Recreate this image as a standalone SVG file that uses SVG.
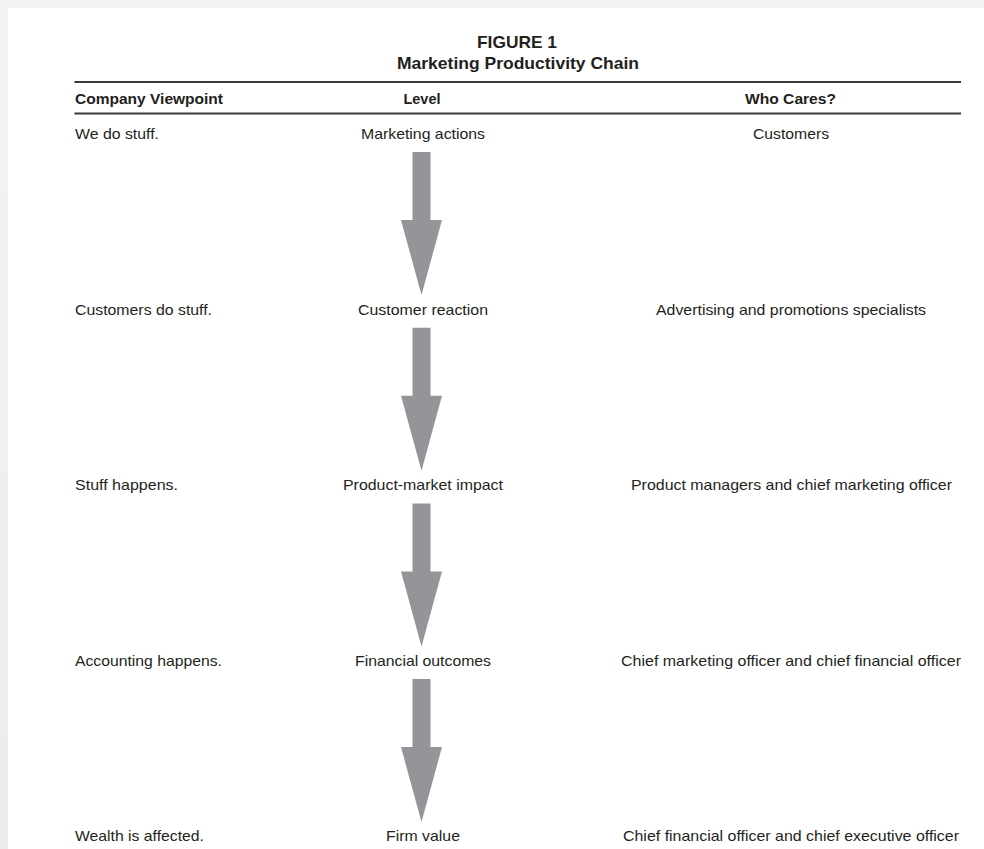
<svg xmlns="http://www.w3.org/2000/svg" xmlns:xlink="http://www.w3.org/1999/xlink" width="984" height="849" viewBox="0 0 984 849">
  <style>
    text { font-family: "Liberation Sans", Arial, Helvetica, sans-serif; fill: #231f20; }
    .title { font-size: 17px; font-weight: bold; text-anchor: middle; }
    .hdr { font-size: 14.5px; font-weight: bold; }
    .body { font-size: 15px; }
    .mid { text-anchor: middle; }
    .rule { stroke: #3a3a3a; stroke-width: 2; }
    .arrow { fill: #939598; }
  </style>
  <defs>
    <linearGradient id="shadeTop" x1="0" y1="0" x2="0" y2="1">
      <stop offset="0" stop-color="#f3f3f3"/>
      <stop offset="1" stop-color="#ececec"/>
    </linearGradient>
    <polygon id="blockArrow" class="arrow" points="412.5,152 430.5,152 430.5,220 442,220 421.5,295 401,220 412.5,220"/>
  </defs>

  <rect x="0" y="0" width="984" height="849" fill="url(#shadeTop)"/>
  <rect x="8" y="8" width="976" height="841" fill="#ffffff"/>

  <g id="title">
    <text class="title" x="517" y="47.5" textLength="80" lengthAdjust="spacingAndGlyphs">FIGURE 1</text>
    <text class="title" x="518" y="69" textLength="242" lengthAdjust="spacingAndGlyphs">Marketing Productivity Chain</text>
  </g>

  <g id="rules">
    <line class="rule" x1="74.5" y1="82" x2="961" y2="82"/>
    <line class="rule" x1="74.5" y1="113.5" x2="961" y2="113.5"/>
  </g>

  <g id="header">
    <text class="hdr" x="75" y="104" textLength="148" lengthAdjust="spacingAndGlyphs">Company Viewpoint</text>
    <text class="hdr mid" x="422" y="104">Level</text>
    <text class="hdr mid" x="790.5" y="104" textLength="91" lengthAdjust="spacingAndGlyphs">Who Cares?</text>
  </g>

  <g id="connectors">
    <use xlink:href="#blockArrow"/>
    <use xlink:href="#blockArrow" transform="translate(0,175.7)"/>
    <use xlink:href="#blockArrow" transform="translate(0,351.4)"/>
    <use xlink:href="#blockArrow" transform="translate(0,527.1)"/>
  </g>

  <g id="row1">
    <text class="body" x="75" y="139" textLength="84" lengthAdjust="spacingAndGlyphs">We do stuff.</text>
    <g id="node-marketing-actions"><text class="body mid" x="423" y="139" textLength="124" lengthAdjust="spacingAndGlyphs">Marketing actions</text></g>
    <text class="body mid" x="791" y="139" textLength="76" lengthAdjust="spacingAndGlyphs">Customers</text>
  </g>

  <g id="row2">
    <text class="body" x="75" y="314.5" textLength="137" lengthAdjust="spacingAndGlyphs">Customers do stuff.</text>
    <g id="node-customer-reaction"><text class="body mid" x="423" y="314.5" textLength="130" lengthAdjust="spacingAndGlyphs">Customer reaction</text></g>
    <text class="body mid" x="791" y="314.5" textLength="270" lengthAdjust="spacingAndGlyphs">Advertising and promotions specialists</text>
  </g>

  <g id="row3">
    <text class="body" x="75" y="490" textLength="103" lengthAdjust="spacingAndGlyphs">Stuff happens.</text>
    <g id="node-product-market-impact"><text class="body mid" x="423" y="490" textLength="160" lengthAdjust="spacingAndGlyphs">Product-market impact</text></g>
    <text class="body mid" x="791.5" y="490" textLength="321" lengthAdjust="spacingAndGlyphs">Product managers and chief marketing officer</text>
  </g>

  <g id="row4">
    <text class="body" x="75" y="665.5" textLength="147" lengthAdjust="spacingAndGlyphs">Accounting happens.</text>
    <g id="node-financial-outcomes"><text class="body mid" x="423" y="665.5" textLength="136" lengthAdjust="spacingAndGlyphs">Financial outcomes</text></g>
    <text class="body mid" x="791" y="665.5" textLength="340" lengthAdjust="spacingAndGlyphs">Chief marketing officer and chief financial officer</text>
  </g>

  <g id="row5">
    <text class="body" x="75" y="841" textLength="129" lengthAdjust="spacingAndGlyphs">Wealth is affected.</text>
    <g id="node-firm-value"><text class="body mid" x="423" y="841" textLength="74" lengthAdjust="spacingAndGlyphs">Firm value</text></g>
    <text class="body mid" x="791" y="841" textLength="336" lengthAdjust="spacingAndGlyphs">Chief financial officer and chief executive officer</text>
  </g>
</svg>
